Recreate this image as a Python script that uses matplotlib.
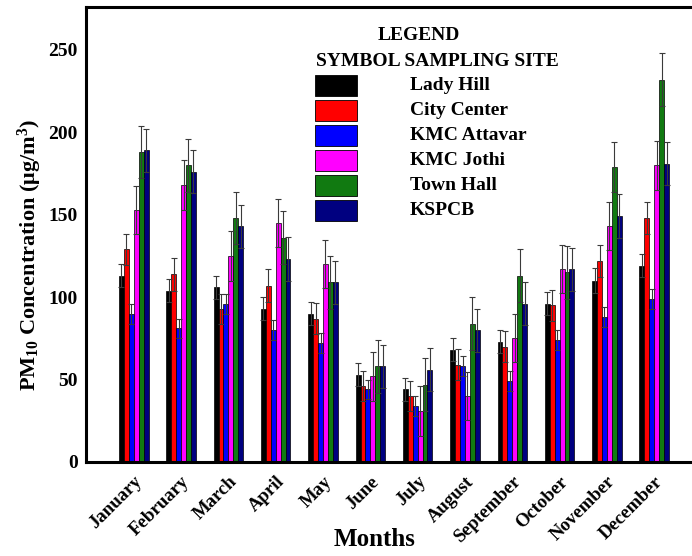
import matplotlib
matplotlib.use("Agg")
import matplotlib.pyplot as plt
import matplotlib.transforms as mtransforms
import numpy as np
from matplotlib.patches import Rectangle

plt.rcParams['font.family'] = ['Liberation Serif', 'DejaVu Serif']
plt.rcParams['font.weight'] = 'bold'
plt.rcParams['mathtext.fontset'] = 'custom'
plt.rcParams['mathtext.rm'] = 'Liberation Serif:bold'
plt.rcParams['mathtext.bf'] = 'Liberation Serif:bold'
plt.rcParams['mathtext.default'] = 'bf'

months = ["January", "February", "March", "April", "May", "June", "July",
          "August", "September", "October", "November", "December"]
sites = ["Lady Hill", "City Center", "KMC Attavar", "KMC Jothi", "Town Hall", "KSPCB"]
colors = ["#000000", "#ff0000", "#0000ff", "#ff00ff", "#117a11", "#000080"]

lady_hill = [113, 104, 106, 93, 90, 53, 44, 68, 73, 96, 110, 119]
lady_hill_err = [7, 7, 7, 7, 7, 7, 7, 7, 7, 7, 7.5, 7]
city_center = [129, 114, 93, 107, 87, 46, 40, 59, 70, 95, 122, 148]
city_center_err = [9.5, 10, 9, 10, 9.5, 9, 9, 9.5, 9.5, 9.5, 9.5, 9.5]
kmc_attavar = [90, 81, 96, 80, 72, 44, 34, 58, 49, 74, 88, 99]
kmc_attavar_err = [6, 6, 6, 6, 6, 6, 6, 6, 6, 6, 6, 6]
kmc_jothi = [153, 168, 125, 145, 120, 52, 31, 40, 75, 117, 143, 180]
kmc_jothi_err = [14.6, 15, 15, 14.6, 14.6, 14.7, 15, 14.6, 14.6, 14.7, 14.7, 14.8]
town_hall = [188, 180, 148, 136, 109, 58, 47, 84, 113, 115, 179, 232]
town_hall_err = [16, 16, 16, 16, 16, 16, 16, 16, 16, 16, 15.2, 16]
kspcb = [189, 176, 143, 123, 109, 58, 56, 80, 96, 117, 149, 181]
kspcb_err = [13, 13, 13, 13.5, 13, 13, 13, 13, 13, 13, 13.3, 13]

series = [lady_hill, city_center, kmc_attavar, kmc_jothi, town_hall, kspcb]
errors = [lady_hill_err, city_center_err, kmc_attavar_err, kmc_jothi_err,
          town_hall_err, kspcb_err]

fig = plt.figure(figsize=(6.92, 5.56), dpi=100)
W, H = 692, 556
ax = fig.add_axes([86 / W, 1 - 462 / H, 616 / W, 455 / H])

x = np.arange(len(months))
bw = 0.104
for k, (vals, errs, c) in enumerate(zip(series, errors, colors)):
    pos = x + (k - 2.5) * bw
    ax.bar(pos, vals, width=bw, color=c, edgecolor="black", linewidth=0.5, zorder=2)
    ax.errorbar(pos, vals, yerr=errs, fmt="none", ecolor="#3a3a3a",
                elinewidth=0.8, capsize=2.5, capthick=0.8, zorder=3)

ax.set_xlim(-1.01, 12.01)
ax.set_ylim(0, 276)
ax.set_yticks([0, 50, 100, 150, 200, 250])
ax.tick_params(axis="both", length=0, labelsize=14)
ax.tick_params(axis="y", pad=6)
ax.set_xticks(x)
ax.set_xticklabels(months, rotation=45, ha="right", va="top",
                   rotation_mode="anchor", fontsize=13.5, fontweight="bold")
shift = mtransforms.ScaledTranslation(-4 / 100, 0, fig.dpi_scale_trans)
for lab in ax.get_xticklabels():
    lab.set_transform(lab.get_transform() + shift)
for lab in ax.get_yticklabels():
    lab.set_fontweight("bold")
ax.tick_params(axis="x", pad=8)

for s in ["left", "bottom", "top"]:
    ax.spines[s].set_linewidth(2.2)
ax.spines["right"].set_visible(False)

fig.text(30 / W, 1 - 255 / H, "PM$_{10}$ Concentration (μg/m$^{3}$)",
         rotation=90, ha="center", va="center", fontsize=16, fontweight="bold")
fig.text(375 / W, 1 - 540 / H, "Months", ha="center", va="center",
         fontsize=18, fontweight="bold")

# custom legend
fig.text(419 / W, 1 - 35 / H, "LEGEND", ha="center", va="center",
         fontsize=14, fontweight="bold")
fig.text(316 / W, 1 - 61 / H, "SYMBOL SAMPLING SITE", ha="left", va="center",
         fontsize=14, fontweight="bold")
for i, (name, c) in enumerate(zip(sites, colors)):
    top = 75 + 25 * i
    fig.patches.append(Rectangle((315 / W, 1 - (top + 21) / H), 42 / W, 21 / H,
                                 transform=fig.transFigure, facecolor=c,
                                 edgecolor="black", linewidth=0.6))
    fig.text(410 / W, 1 - (top + 10.5) / H, name, ha="left", va="center",
             fontsize=14, fontweight="bold")

fig.savefig("out.png", dpi=100)
